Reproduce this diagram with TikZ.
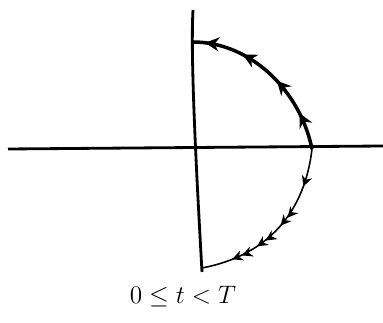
\documentclass[tikz,border=0pt]{standalone}
\usepackage{amsmath,amssymb}
\usepackage{tikz}
\usetikzlibrary{arrows.meta,positioning,decorations.markings}

\tikzset{
    axisline/.style={line width=1.6pt},
    pathup/.style={line width=2pt,
        postaction={decorate},
        decoration={markings,
            mark=at position 0.22 with {\arrow{Stealth[length=8pt,width=8pt]}},
            mark=at position 0.45 with {\arrow{Stealth[length=8pt,width=8pt]}},
            mark=at position 0.7 with {\arrow{Stealth[length=8pt,width=8pt]}},
            mark=at position 0.93 with {\arrow{Stealth[length=8pt,width=8pt]}}}},
    pathdown/.style={line width=0.9pt,
        postaction={decorate},
        decoration={markings,
            mark=at position 0.22 with {\arrow{Stealth[length=6pt,width=6pt]}},
            mark=at position 0.48 with {\arrow{Stealth[length=6pt,width=6pt] Stealth[length=6pt,width=6pt]}},
            mark=at position 0.66 with {\arrow{Stealth[length=6pt,width=6pt] Stealth[length=6pt,width=6pt]}},
            mark=at position 0.82 with {\arrow{Stealth[length=6pt,width=6pt] Stealth[length=6pt,width=6pt]}},
            mark=at position 1 with {\arrow{Stealth[length=8pt,width=7pt] Stealth[length=8pt,width=7pt]}}}}
}

\begin{document}
\begin{tikzpicture}[x=0.02cm,y=-0.02cm]
    \useasboundingbox (0,0) rectangle (383,323);

    % Axes
    \coordinate (west) at (8,149);
    \coordinate (east) at (383,146);
    \coordinate (north) at (193,10);
    \coordinate (south) at (202,272);
    \draw[axisline] (west) -- (east);
    \draw[axisline] (north) .. controls (190,60) and (198,200) .. (south);

    % Closed path, upper and lower halves
    \coordinate (right) at (312,149);
    \coordinate (top) at (193,42);
    \coordinate (bottom) at (202,268);
    \draw[pathup] (right) .. controls (300,90) and (250,42) .. (top);
    \draw[pathdown] (right) .. controls (305,210) and (270,255) .. (bottom);

    % Time range
    \node[font=\fontsize{15}{17}\selectfont] (range) at (183,297) {$0\leq t<T$};
\end{tikzpicture}
\end{document}
